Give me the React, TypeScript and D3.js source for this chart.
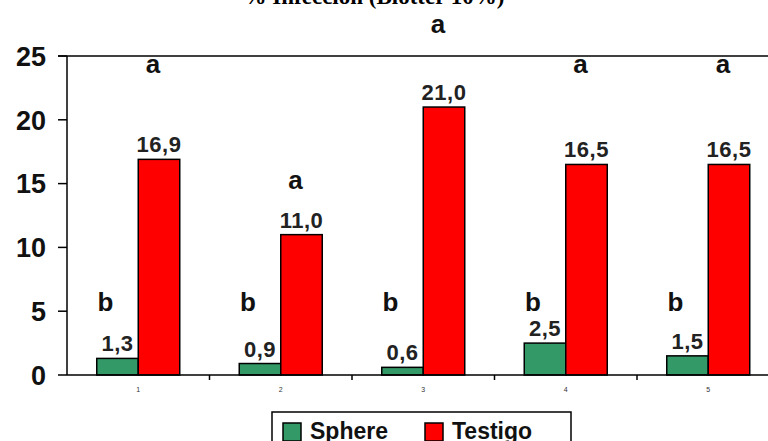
import React from 'react';
import * as d3 from 'd3';

// data
const categories = ['1', '2', '3', '4', '5'];
const seriesNames = ['Sphere', 'Testigo'];
const sphereValues = [1.3, 0.9, 0.6, 2.5, 1.5];
const testigoValues = [16.9, 11.0, 21.0, 16.5, 16.5];
const sphereLetters = ['b', 'b', 'b', 'b', 'b'];
const testigoLetters = ['a', 'a', 'a', 'a', 'a'];
// height (in chart units) where each significance letter sits
const sphereLetterLevels = [5.0, 5.0, 5.0, 5.0, 5.0];
const testigoLetterLevels = [23.7, 14.6, 26.8, 23.7, 23.7];
const yTicks = [0, 5, 10, 15, 20, 25];
const title = '% Infección (Blotter 10%)';

const colors: Record<string, string> = { Sphere: '#339966', Testigo: '#ff0000' };

const fmt = (v: number) => v.toFixed(1).replace('.', ',');

export default function App() {
  const width = 768;
  const height = 441;
  const margin = { left: 67, top: 56, bottom: 375 };
  const bandStep = 142.5;

  const x = d3.scaleBand<string>()
    .domain(categories)
    .range([margin.left, margin.left + bandStep * categories.length])
    .padding(0);

  const xInner = d3.scaleBand<string>()
    .domain(seriesNames)
    .range([0, x.bandwidth()])
    .paddingInner(0)
    .paddingOuter(0.717);

  const y = d3.scaleLinear().domain([0, 25]).range([margin.bottom, margin.top]);

  const series = [
    { name: 'Sphere', values: sphereValues, letters: sphereLetters, levels: sphereLetterLevels, dx: -12 },
    { name: 'Testigo', values: testigoValues, letters: testigoLetters, levels: testigoLetterLevels, dx: -6 },
  ];

  const font = 'Liberation Sans, Arial, sans-serif';

  return (
    <svg
      width={width}
      height={height}
      style={{ position: 'absolute', left: 0, top: 0, background: '#fff' }}
    >
      {/* title, cut off at the top like the reference */}
      <text
        x={374}
        y={4}
        textAnchor="middle"
        fontFamily="Liberation Serif, Times New Roman, serif"
        fontWeight="bold"
        fontSize={23}
        fill="#000"
      >
        {title}
      </text>

      {/* bars */}
      {series.map(s => (
        <g key={s.name}>
          {categories.map((c, i) => {
            const bx = (x(c) ?? 0) + (xInner(s.name) ?? 0);
            const bw = xInner.bandwidth();
            const top = y(s.values[i]);
            return (
              <g key={c}>
                <rect
                  x={bx}
                  y={top}
                  width={bw}
                  height={y(0) - top}
                  fill={colors[s.name]}
                  stroke="#000"
                  strokeWidth={1.5}
                />
                <text
                  x={bx + bw / 2}
                  y={top - 7}
                  textAnchor="middle"
                  fontFamily={font}
                  fontWeight="bold"
                  fontSize={22}
                  letterSpacing={0.5}
                  fill="#222"
                >
                  {fmt(s.values[i])}
                </text>
                <text
                  x={bx + bw / 2 + s.dx}
                  y={y(s.levels[i])}
                  textAnchor="middle"
                  fontFamily={font}
                  fontWeight="bold"
                  fontSize={26}
                  fill="#111"
                >
                  {s.letters[i]}
                </text>
              </g>
            );
          })}
        </g>
      ))}

      {/* frame top line */}
      <line x1={margin.left - 9} x2={width} y1={y(25)} y2={y(25)} stroke="#000" strokeWidth={1.5} />

      {/* y axis */}
      <line x1={margin.left} x2={margin.left} y1={y(25)} y2={y(0)} stroke="#000" strokeWidth={1.5} />
      {yTicks.map(t => (
        <g key={t}>
          <line x1={margin.left - 9} x2={margin.left} y1={y(t)} y2={y(t)} stroke="#000" strokeWidth={1.5} />
          <text
            x={46}
            y={y(t)}
            dy="0.36em"
            textAnchor="end"
            fontFamily={font}
            fontWeight="bold"
            fontSize={27}
            fill="#111"
          >
            {t}
          </text>
        </g>
      ))}

      {/* x axis */}
      <line x1={margin.left} x2={width} y1={y(0)} y2={y(0)} stroke="#000" strokeWidth={1.5} />
      {categories.map(c => (
        <g key={c}>
          <line
            x1={(x(c) ?? 0) + x.bandwidth()}
            x2={(x(c) ?? 0) + x.bandwidth()}
            y1={y(0)}
            y2={y(0) + 5}
            stroke="#000"
            strokeWidth={1.5}
          />
          <text
            x={(x(c) ?? 0) + x.bandwidth() / 2}
            y={y(0) + 17}
            textAnchor="middle"
            fontFamily={font}
            fontSize={7}
            fill="#333"
          >
            {c}
          </text>
        </g>
      ))}

      {/* legend, cut off at the bottom */}
      <rect x={272} y={412} width={299} height={40} fill="#fff" stroke="#000" strokeWidth={1.5} />
      {seriesNames.map((n, i) => {
        const lx = i === 0 ? 283 : 425;
        return (
          <g key={n}>
            <rect x={lx} y={423} width={18} height={18} fill={colors[n]} stroke="#000" strokeWidth={1.5} />
            <text
              x={lx + 27}
              y={439}
              fontFamily={font}
              fontWeight="bold"
              fontSize={23}
              fill="#111"
            >
              {n}
            </text>
          </g>
        );
      })}
    </svg>
  );
}
